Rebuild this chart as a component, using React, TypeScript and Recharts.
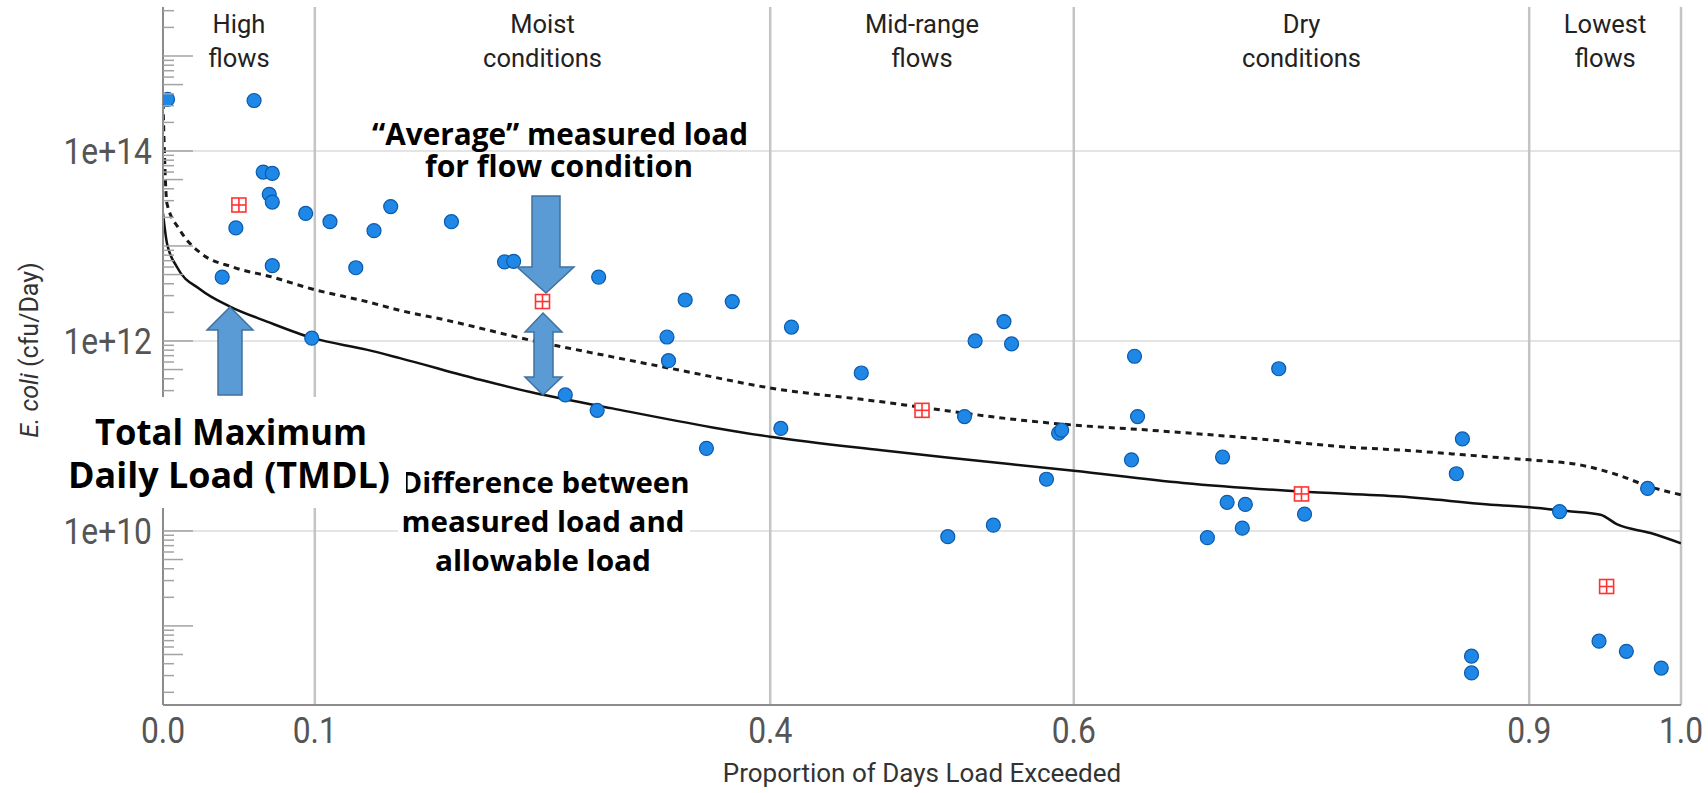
import { ComposedChart, XAxis, YAxis, Line, Scatter, ReferenceLine, ReferenceArea } from 'recharts'

// measured daily loads: proportion of days exceeded / cfu per day
const sampleX = [
  0.003, 0.06, 0.066, 0.072, 0.07, 0.072, 0.094, 0.11, 0.139, 0.15, 0.048, 0.072, 0.039, 0.127, 0.098,
  0.19, 0.225, 0.231, 0.287, 0.344, 0.375, 0.332, 0.333, 0.414, 0.46, 0.265, 0.286, 0.358, 0.407,
  0.535, 0.554, 0.559, 0.64, 0.735, 0.528, 0.59, 0.592, 0.642, 0.638, 0.582, 0.517, 0.547,
  0.698, 0.701, 0.713, 0.711, 0.688, 0.752, 0.856, 0.852, 0.92, 0.978, 0.946, 0.964, 0.987, 0.862, 0.862,
]
const sampleY = [
  3.5e14, 3.4e14, 6.0e13, 5.8e13, 3.5e13, 2.9e13, 2.2e13, 1.8e13, 1.45e13, 2.6e13, 1.55e13, 6.2e12, 4.7e12, 5.9e12, 1.07e12,
  1.8e13, 6.8e12, 6.9e12, 4.7e12, 2.7e12, 2.6e12, 1.1e12, 6.2e11, 1.4e12, 4.6e11, 2.7e11, 1.86e11, 7.4e10, 1.2e11,
  1.0e12, 1.6e12, 9.3e11, 6.9e11, 5.1e11, 1.6e11, 1.07e11, 1.15e11, 1.6e11, 5.6e10, 3.5e10, 8.7e9, 1.15e10,
  6.0e10, 2.0e10, 1.9e10, 1.07e10, 8.5e9, 1.5e10, 9.3e10, 4.0e10, 1.6e10, 2.8e10, 6.9e8, 5.4e8, 3.6e8, 4.8e8, 3.2e8,
]

// "average" measured load per flow condition
const avgX = [0.05, 0.25, 0.5, 0.75, 0.951]
const avgY = [2.7e13, 2.6e12, 1.86e11, 2.45e10, 2.6e9]

// TMDL curve (solid)
const tmdlX = [0, 0.0026, 0.0092, 0.0244, 0.0441, 0.0685, 0.0988, 0.134, 0.156, 0.209, 0.242, 0.296, 0.362, 0.4,
  0.472, 0.518, 0.6, 0.672, 0.749, 0.815, 0.881, 0.9, 0.925, 0.947, 0.958, 0.98, 1.0]
const tmdlY = [2.2e13, 1.07e13, 6.0e12, 3.5e12, 2.3e12, 1.6e12, 1.07e12, 8.1e11, 6.6e11, 3.9e11, 2.9e11, 1.95e11, 1.23e11, 9.8e10,
  7.1e10, 5.9e10, 4.3e10, 3.2e10, 2.6e10, 2.3e10, 1.86e10, 1.78e10, 1.62e10, 1.48e10, 1.17e10, 9.5e9, 7.4e9]

// dashed curve
const refX = [0, 0.0026, 0.011, 0.0244, 0.046, 0.072, 0.0988, 0.134, 0.156, 0.187, 0.242, 0.296, 0.341, 0.4,
  0.472, 0.5, 0.563, 0.6, 0.65, 0.716, 0.782, 0.815, 0.881, 0.9, 0.935, 0.958, 0.98, 1.0]
const refY = [3.2e14, 2.8e13, 1.48e13, 8.5e12, 6.0e12, 4.7e12, 3.5e12, 2.6e12, 2.1e12, 1.65e12, 1.02e12, 6.8e11, 4.9e11, 3.2e11,
  2.3e11, 2.0e11, 1.48e11, 1.3e11, 1.15e11, 9.5e10, 7.6e10, 7.1e10, 5.9e10, 5.6e10, 4.9e10, 3.9e10, 2.9e10, 2.4e10]

const xTicks = [0, 0.1, 0.4, 0.6, 0.9, 1.0]
const zoneBreaks = [0.1, 0.4, 0.6, 0.9, 1.0]
const yLabelTicks = [1e10, 1e12, 1e14]
const decades = [8, 9, 10, 11, 12, 13, 14, 15]
const mantissas = [1, 2, 3, 4, 5, 6, 7, 8, 9]
const zoneStarts = [0, 0.1, 0.4, 0.6, 0.9]
const zoneEnds = [0.1, 0.4, 0.6, 0.9, 1.0]
const zoneNames = [['High', 'flows'], ['Moist', 'conditions'], ['Mid-range', 'flows'], ['Dry', 'conditions'], ['Lowest', 'flows']]

const yDomain = [1.47e8, 3.28e15]
const yTicks = decades
  .flatMap((d) => mantissas.map((m) => m * Math.pow(10, d)))
  .filter((v) => v >= yDomain[0] && v <= yDomain[1])

const samples = sampleX.map((x, i) => ({ x, y: sampleY[i] }))
const averages = avgX.map((x, i) => ({ x, y: avgY[i] }))
const tmdl = tmdlX.map((x, i) => ({ x, y: tmdlY[i] }))
const refCurve = refX.map((x, i) => ({ x, y: refY[i] }))

const BLUE = '#5b9bd5'
const BLUE_EDGE = '#41719c'

function YTick(props: any) {
  const { x, y, payload } = props
  const v = payload.value
  const e = Math.floor(Math.log10(v) + 1e-9)
  const m = Math.round(v / Math.pow(10, e))
  const len = m === 1 ? 30 : m === 5 ? 20 : 11
  const showLabel = yLabelTicks.some((t) => Math.abs(t - v) / t < 1e-6)
  return (
    <g>
      <line x1={x} x2={x + len} y1={y} y2={y} stroke="#a3a3a3" strokeWidth={1.5} />
      {showLabel && (
        <text
          transform={`translate(${x - 11},${y + 13}) scale(0.86,1)`}
          textAnchor="end"
          fontFamily="Roboto"
          fontSize={37}
          fill="#555"
        >
          {`1e+${e}`}
        </text>
      )}
    </g>
  )
}

function XTick(props: any) {
  const { x, y, payload } = props
  return (
    <text
      transform={`translate(${x},${y + 38}) scale(0.86,1)`}
      textAnchor="middle"
      fontFamily="Roboto"
      fontSize={37}
      fill="#555"
    >
      {payload.value.toFixed(1)}
    </text>
  )
}

function ZoneLabel(props: any) {
  const { viewBox, lines } = props
  const cx = viewBox.x + viewBox.width / 2
  return (
    <text x={cx} y={viewBox.y + 26} textAnchor="middle" fontFamily="Roboto" fontSize={25.5} fill="#222">
      {lines.map((l: string, i: number) => (
        <tspan key={i} x={cx} dy={i === 0 ? 0 : 34}>
          {l}
        </tspan>
      ))}
    </text>
  )
}

const SampleDot = (p: any) => (
  <circle cx={p.cx} cy={p.cy} r={7} fill="#1f87e6" stroke="#0b5aab" strokeWidth={1.2} />
)

const AvgMark = (p: any) => (
  <g stroke="#ff3333" strokeWidth={1.6} fill="#fff">
    <rect x={p.cx - 7} y={p.cy - 7} width={14} height={14} />
    <line x1={p.cx - 7} x2={p.cx + 7} y1={p.cy} y2={p.cy} />
    <line x1={p.cx} x2={p.cx} y1={p.cy - 7} y2={p.cy + 7} />
  </g>
)

const bold = { fontFamily: 'Open Sans', fontWeight: 700, fill: '#000', textAnchor: 'middle' } as const

export default function App() {
  return (
    <div style={{ position: 'absolute', left: 0, top: 0, width: 1708, height: 793, background: '#fff' }}>
      <ComposedChart width={1708} height={793} margin={{ top: 7, right: 27, bottom: 0, left: 0 }}>
        <XAxis
          type="number"
          dataKey="x"
          domain={[0, 1]}
          ticks={xTicks}
          interval={0}
          height={88}
          tickLine={false}
          tickSize={0}
          tickMargin={0}
          tick={<XTick />}
          axisLine={{ stroke: '#8c8c8c', strokeWidth: 2 }}
          allowDataOverflow
        />
        <YAxis
          type="number"
          dataKey="y"
          scale="log"
          domain={yDomain}
          ticks={yTicks}
          interval={0}
          width={163}
          tickLine={false}
          tickSize={0}
          tickMargin={0}
          tick={<YTick />}
          axisLine={{ stroke: '#8c8c8c', strokeWidth: 2 }}
          allowDataOverflow
        />
        {yLabelTicks.map((v) => (
          <ReferenceLine key={'h' + v} y={v} stroke="#e4e4e4" strokeWidth={2} />
        ))}
        {zoneBreaks.map((v) => (
          <ReferenceLine key={'v' + v} x={v} stroke="#c4c4c4" strokeWidth={2.5} />
        ))}
        {zoneStarts.map((x1, i) => (
          <ReferenceArea
            key={'z' + i}
            x1={x1}
            x2={zoneEnds[i]}
            fillOpacity={0}
            strokeOpacity={0}
            label={<ZoneLabel lines={zoneNames[i]} />}
          />
        ))}
        <Line
          data={refCurve}
          dataKey="y"
          type="monotone"
          stroke="#1a1a1a"
          strokeWidth={3}
          strokeDasharray="6 5"
          dot={false}
          isAnimationActive={false}
        />
        <Line
          data={tmdl}
          dataKey="y"
          type="monotone"
          stroke="#111"
          strokeWidth={2.5}
          dot={false}
          isAnimationActive={false}
        />
        <Scatter data={samples} dataKey="y" shape={SampleDot} isAnimationActive={false} />
        <Scatter data={averages} dataKey="y" shape={AvgMark} isAnimationActive={false} />
      </ComposedChart>

      <svg
        width={1708}
        height={793}
        style={{ position: 'absolute', left: 0, top: 0, pointerEvents: 'none' }}
      >
        <text transform="translate(38,350) rotate(-90)" textAnchor="middle" fontFamily="Roboto" fontSize={25} fill="#333">
          <tspan fontStyle="italic">E. coli</tspan> (cfu/Day)
        </text>
        <text x={922} y={782} textAnchor="middle" fontFamily="Roboto" fontSize={26} fill="#333">
          Proportion of Days Load Exceeded
        </text>

        {/* average measured load callout */}
        <text fontSize={30} {...bold}>
          <tspan x={560} y={145} textLength={376} lengthAdjust="spacingAndGlyphs">
            “Average” measured load
          </tspan>
          <tspan x={559} y={177} textLength={268} lengthAdjust="spacingAndGlyphs">
            for flow condition
          </tspan>
        </text>
        <polygon
          points="532,196 560,196 560,267 574,267 546,293 517,267 532,267"
          fill={BLUE}
          stroke={BLUE_EDGE}
          strokeWidth={1.5}
        />
        <polygon
          points="543,313 562,332 553,332 553,377 562,377 543,395 525,377 534,377 534,332 525,332"
          fill={BLUE}
          stroke={BLUE_EDGE}
          strokeWidth={1.5}
        />
        <polygon
          points="230,307 253,330 242,330 242,395 218,395 218,330 207,330"
          fill={BLUE}
          stroke={BLUE_EDGE}
          strokeWidth={1.5}
        />

        {/* difference callout */}
        <rect x={398} y={462} width={292} height={118} fill="#fff" />
        <text fontSize={28} {...bold}>
          <tspan x={545} y={493} textLength={289} lengthAdjust="spacingAndGlyphs">
            Difference between
          </tspan>
          <tspan x={543} y={532} textLength={283} lengthAdjust="spacingAndGlyphs">
            measured load and
          </tspan>
          <tspan x={543} y={571} textLength={216} lengthAdjust="spacingAndGlyphs">
            allowable load
          </tspan>
        </text>

        {/* TMDL callout */}
        <rect x={62} y={397} width={344} height={111} fill="#fff" />
        <text fontSize={36} {...bold}>
          <tspan x={231} y={445} textLength={272} lengthAdjust="spacingAndGlyphs">
            Total Maximum
          </tspan>
          <tspan x={229} y={488} textLength={322} lengthAdjust="spacingAndGlyphs">
            Daily Load (TMDL)
          </tspan>
        </text>
      </svg>
    </div>
  )
}
